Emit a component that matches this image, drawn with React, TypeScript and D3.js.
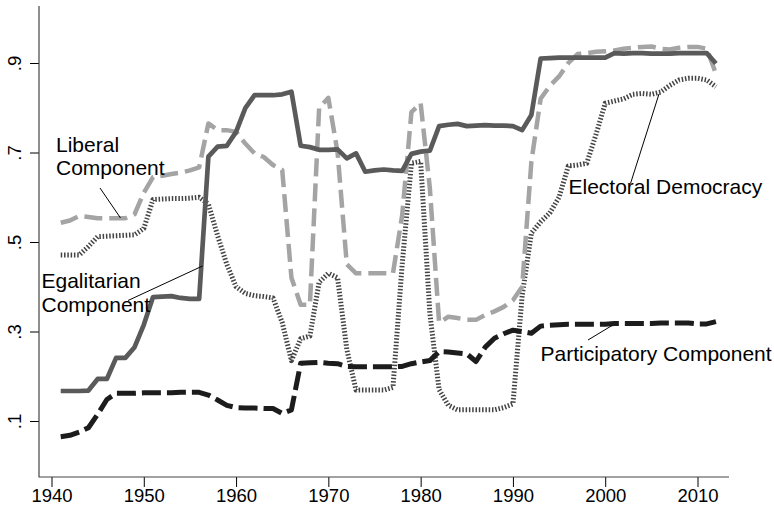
import React, { useEffect, useRef } from "react";
import * as d3 from "d3";

// years 1941..2012, one value per year
const years = d3.range(1941, 2013);

const egalitarian = [
  0.167, 0.167, 0.167, 0.168, 0.194, 0.194, 0.241, 0.241, 0.265, 0.315,
  0.377, 0.378, 0.379, 0.375, 0.373, 0.373, 0.691, 0.713, 0.715, 0.746,
  0.799, 0.828, 0.828, 0.828, 0.83, 0.836, 0.715, 0.712, 0.706, 0.706,
  0.707, 0.687, 0.698, 0.657, 0.66, 0.662, 0.66, 0.659, 0.697, 0.702,
  0.704, 0.759, 0.762, 0.764, 0.759, 0.76, 0.761, 0.76, 0.76, 0.759,
  0.75, 0.784, 0.91, 0.911, 0.912, 0.912, 0.912, 0.912, 0.912, 0.912,
  0.922, 0.921, 0.922, 0.922, 0.921, 0.921, 0.921, 0.922, 0.922, 0.922,
  0.922, 0.899,
];

const liberal = [
  0.543, 0.548, 0.558, 0.556, 0.553, 0.553, 0.553, 0.553, 0.562, 0.61,
  0.645, 0.648, 0.652, 0.655, 0.66, 0.667, 0.765, 0.75, 0.75, 0.746,
  0.72, 0.698, 0.69, 0.672, 0.661, 0.42, 0.36, 0.36, 0.8, 0.822,
  0.7, 0.45, 0.43, 0.43, 0.43, 0.43, 0.43, 0.56, 0.79, 0.81,
  0.62, 0.32, 0.333, 0.33, 0.326, 0.326, 0.337, 0.345, 0.355, 0.37,
  0.4, 0.68, 0.82, 0.849, 0.87, 0.9, 0.92, 0.922, 0.925, 0.926,
  0.928, 0.932, 0.934, 0.936, 0.937, 0.932, 0.93, 0.934, 0.936, 0.936,
  0.932, 0.876,
];

const electoral = [
  0.471, 0.471, 0.471, 0.49, 0.512, 0.513, 0.514, 0.515, 0.516, 0.53,
  0.595, 0.596, 0.597, 0.597, 0.598, 0.6, 0.585, 0.514, 0.45, 0.4,
  0.385, 0.38, 0.378, 0.375, 0.32, 0.235, 0.284, 0.29, 0.41, 0.43,
  0.42, 0.26, 0.169, 0.169, 0.169, 0.169, 0.175, 0.45, 0.676, 0.68,
  0.34, 0.17, 0.135, 0.125, 0.125, 0.125, 0.125, 0.125, 0.13, 0.138,
  0.38, 0.52, 0.545, 0.565, 0.6, 0.67, 0.672, 0.676, 0.74, 0.81,
  0.815, 0.82, 0.83, 0.832, 0.83, 0.835, 0.85, 0.862, 0.866, 0.866,
  0.862, 0.847,
];

const participatory = [
  0.065, 0.068, 0.075, 0.085, 0.115, 0.148, 0.162, 0.162, 0.162, 0.163,
  0.163, 0.163, 0.163, 0.164, 0.164, 0.164, 0.158, 0.147, 0.135, 0.13,
  0.129, 0.129, 0.128, 0.128, 0.117, 0.125, 0.229, 0.23, 0.231, 0.229,
  0.228, 0.222, 0.221, 0.221, 0.221, 0.221, 0.221, 0.222, 0.228, 0.232,
  0.235, 0.255, 0.254, 0.252, 0.25, 0.233, 0.265, 0.285, 0.295, 0.303,
  0.3, 0.296, 0.312, 0.314, 0.315, 0.316, 0.316, 0.316, 0.316, 0.316,
  0.318, 0.318, 0.318, 0.318, 0.318, 0.319, 0.319, 0.319, 0.319, 0.317,
  0.317, 0.322,
];

const xTicks = [1940, 1950, 1960, 1970, 1980, 1990, 2000, 2010];
const yTicks = [0.1, 0.3, 0.5, 0.7, 0.9];

const FONT = "'Liberation Sans', Arial, Helvetica, sans-serif";

export default function App() {
  const ref = useRef(null);

  useEffect(() => {
    const svg = d3.select(ref.current);
    svg.selectAll("*").remove();

    const x = d3.scaleLinear().domain([1940, 2010]).range([51.5, 697.5]);
    const y = d3.scaleLinear().domain([0.1, 0.9]).range([421, 63]);

    svg.append("rect").attr("width", 774).attr("height", 506).attr("fill", "#fff");

    // axes
    const yAxis = svg
      .append("g")
      .attr("transform", "translate(39,0)")
      .call(d3.axisLeft(y).tickValues(yTicks).tickSize(9));
    yAxis.select(".domain").remove();
    yAxis.selectAll(".tick line").attr("stroke", "#000").attr("stroke-width", 1);
    yAxis
      .selectAll(".tick text")
      .text((d) => d3.format(".1f")(d).replace(/^0/, ""))
      .attr("font-family", FONT)
      .attr("font-size", 18.5)
      .attr("fill", "#000")
      .attr("text-anchor", "middle")
      .attr("dy", null)
      .attr("x", null)
      .attr("transform", "translate(-18,0) rotate(-90)");

    const xAxis = svg
      .append("g")
      .attr("transform", "translate(0,477)")
      .call(d3.axisBottom(x).tickValues(xTicks).tickSize(10).tickFormat(d3.format("d")));
    xAxis.select(".domain").remove();
    xAxis.selectAll(".tick line").attr("stroke", "#000").attr("stroke-width", 1);
    xAxis
      .selectAll(".tick text")
      .attr("font-family", FONT)
      .attr("font-size", 18.5)
      .attr("fill", "#000")
      .attr("y", 24.5)
      .attr("dy", null);

    svg
      .append("path")
      .attr("d", "M39,6V477H729")
      .attr("fill", "none")
      .attr("stroke", "#444")
      .attr("stroke-width", 1.2);

    const line = d3
      .line()
      .x((d) => x(d[0]))
      .y((d) => y(d[1]));

    const series = [
      { values: electoral, color: "#444", width: 5, dash: "1.5,1.8" },
      { values: liberal, color: "#a4a4a4", width: 4.5, dash: "18,7" },
      { values: egalitarian, color: "#5a5a5a", width: 4.7, dash: null },
      { values: participatory, color: "#1c1c1c", width: 5, dash: "19,6" },
    ];

    series.forEach((s) => {
      svg
        .append("path")
        .datum(years.map((yr, i) => [yr, s.values[i]]))
        .attr("fill", "none")
        .attr("stroke", s.color)
        .attr("stroke-width", s.width)
        .attr("stroke-dasharray", s.dash)
        .attr("stroke-linejoin", "round")
        .attr("d", line);
    });

    // labels with pointer lines
    const labels = [
      { lines: ["Liberal", "Component"], x: 56, y: 151.5, from: [100, 188], to: [120.5, 218] },
      { lines: ["Egalitarian", "Component"], x: 41.5, y: 288, from: [128, 300.5], to: [202.5, 266] },
      { lines: ["Electoral Democracy"], x: 568.5, y: 193.5, from: [630.5, 183.5], to: [659, 94] },
      { lines: ["Participatory Component"], x: 540.5, y: 360.5, from: [588, 340], to: [612, 325.5] },
    ];

    labels.forEach((l) => {
      svg
        .append("line")
        .attr("x1", l.from[0])
        .attr("y1", l.from[1])
        .attr("x2", l.to[0])
        .attr("y2", l.to[1])
        .attr("stroke", "#000")
        .attr("stroke-width", 1);
      const t = svg
        .append("text")
        .attr("font-family", FONT)
        .attr("font-size", 21)
        .attr("fill", "#000");
      l.lines.forEach((s, i) => {
        t.append("tspan").attr("x", l.x).attr("y", l.y + i * 23.5).text(s);
      });
    });
  }, []);

  return (
    <svg
      ref={ref}
      width={774}
      height={506}
      style={{ position: "absolute", left: 0, top: 0 }}
    ></svg>
  );
}
